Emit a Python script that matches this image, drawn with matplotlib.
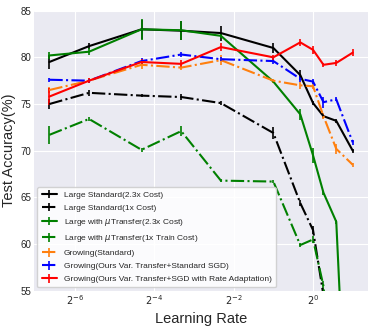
import numpy as np
import matplotlib
matplotlib.use('Agg')
import matplotlib.pyplot as plt

plt.style.use('seaborn-v0_8-darkgrid')

# learning rates swept
lr = [0.01, 0.02, 0.05, 0.1, 0.2, 0.5, 0.8, 1.0, 1.2, 1.5, 2.0]

large_std = [79.5, 81.2, 83.0, 82.85, 82.6, 81.0, 78.1, 75.1, 73.7, 73.2, 70.0]
large_std_err = [0.8, 0.3, 1.0, 1.0, 0.8, 0.5, 0.5, 0.2, 0.2, 0.2, 0.2]

large_std_1x = [75.0, 76.2, 75.9, 75.75, 75.1, 71.9, 64.4, 61.5, 54.5, 40.0, 30.0]
large_std_1x_err = [0.5, 0.3, 0.2, 0.3, 0.2, 0.6, 0.3, 0.4, 0.5, 0.5, 0.5]

large_mu = [80.2, 80.6, 83.0, 82.9, 82.3, 77.4, 73.9, 69.5, 65.5, 62.4, 25.0]
large_mu_err = [0.4, 0.4, 1.1, 1.0, 0.2, 0.2, 0.6, 0.8, 0.2, 0.2, 0.2]

large_mu_1x = [71.7, 73.4, 70.1, 72.1, 66.8, 66.7, 59.9, 60.5, 55.5, 40.0, 30.0]
large_mu_1x_err = [1.0, 0.2, 0.2, 0.5, 0.2, 0.2, 0.2, 0.4, 0.6, 0.5, 0.5]

grow_std = [76.5, 77.5, 79.2, 78.9, 79.7, 77.5, 77.0, 76.9, 73.7, 70.2, 68.5]
grow_std_err = [0.3, 0.3, 0.4, 0.3, 0.5, 0.2, 0.4, 0.3, 0.3, 0.5, 0.2]

grow_var = [77.6, 77.5, 79.6, 80.3, 79.8, 79.6, 77.7, 77.4, 75.2, 75.5, 70.9]
grow_var_err = [0.2, 0.2, 0.3, 0.3, 0.2, 0.3, 0.3, 0.3, 0.6, 0.2, 0.3]

grow_adapt = [75.8, 77.5, 79.5, 79.3, 81.1, 80.0, 81.6, 80.8, 79.2, 79.4, 80.5]
grow_adapt_err = [0.9, 0.3, 0.3, 0.4, 0.4, 0.3, 0.4, 0.4, 0.2, 0.3, 0.4]

fig, ax = plt.subplots(figsize=(3.74, 3.32), dpi=100)
fig.subplots_adjust(left=0.091, right=0.984, top=0.968, bottom=0.124)

series = [
    (large_std, large_std_err, 'k', '-', 'Large Standard(2.3x Cost)'),
    (large_std_1x, large_std_1x_err, 'k', '-.', 'Large Standard(1x Cost)'),
    (large_mu, large_mu_err, 'g', '-', r'Large with $\mu$Transfer(2.3x Cost)'),
    (large_mu_1x, large_mu_1x_err, 'g', '-.', r'Large with $\mu$Transfer(1x Train Cost)'),
    (grow_std, grow_std_err, 'tab:orange', '-.', 'Growing(Standard)'),
    (grow_var, grow_var_err, 'b', '-.', 'Growing(Ours Var. Transfer+Standard SGD)'),
    (grow_adapt, grow_adapt_err, 'r', '-', 'Growing(Ours Var. Transfer+SGD with Rate Adaptation)'),
]
for vals, err, c, ls, lab in series:
    ax.errorbar(lr, vals, yerr=err, color=c, ls=ls, lw=1.5, elinewidth=1.2,
                capsize=0, label=lab)

ax.set_xscale('log', base=2)
ax.set_xlim(2 ** -7.03, 2 ** 1.385)
ax.set_ylim(55, 85)
ax.set_xticks([2 ** -6, 2 ** -4, 2 ** -2, 2 ** 0])
ax.set_xticklabels([r'$2^{-6}$', r'$2^{-4}$', r'$2^{-2}$', r'$2^{0}$'])
ax.minorticks_off()
ax.set_yticks([55, 60, 65, 70, 75, 80, 85])
ax.tick_params(labelsize=7, pad=2)
ax.set_xlabel('Learning Rate', fontsize=10.5, labelpad=3)
ax.set_ylabel('Test Accuracy(%)', fontsize=10.5, labelpad=3)
ax.legend(loc='lower left', fontsize=6.0, frameon=True, facecolor='white',
          framealpha=0.85, handlelength=1.8, handletextpad=0.9,
          borderpad=0.5, labelspacing=0.62, borderaxespad=0.4)

plt.savefig('out.png', dpi=100)
